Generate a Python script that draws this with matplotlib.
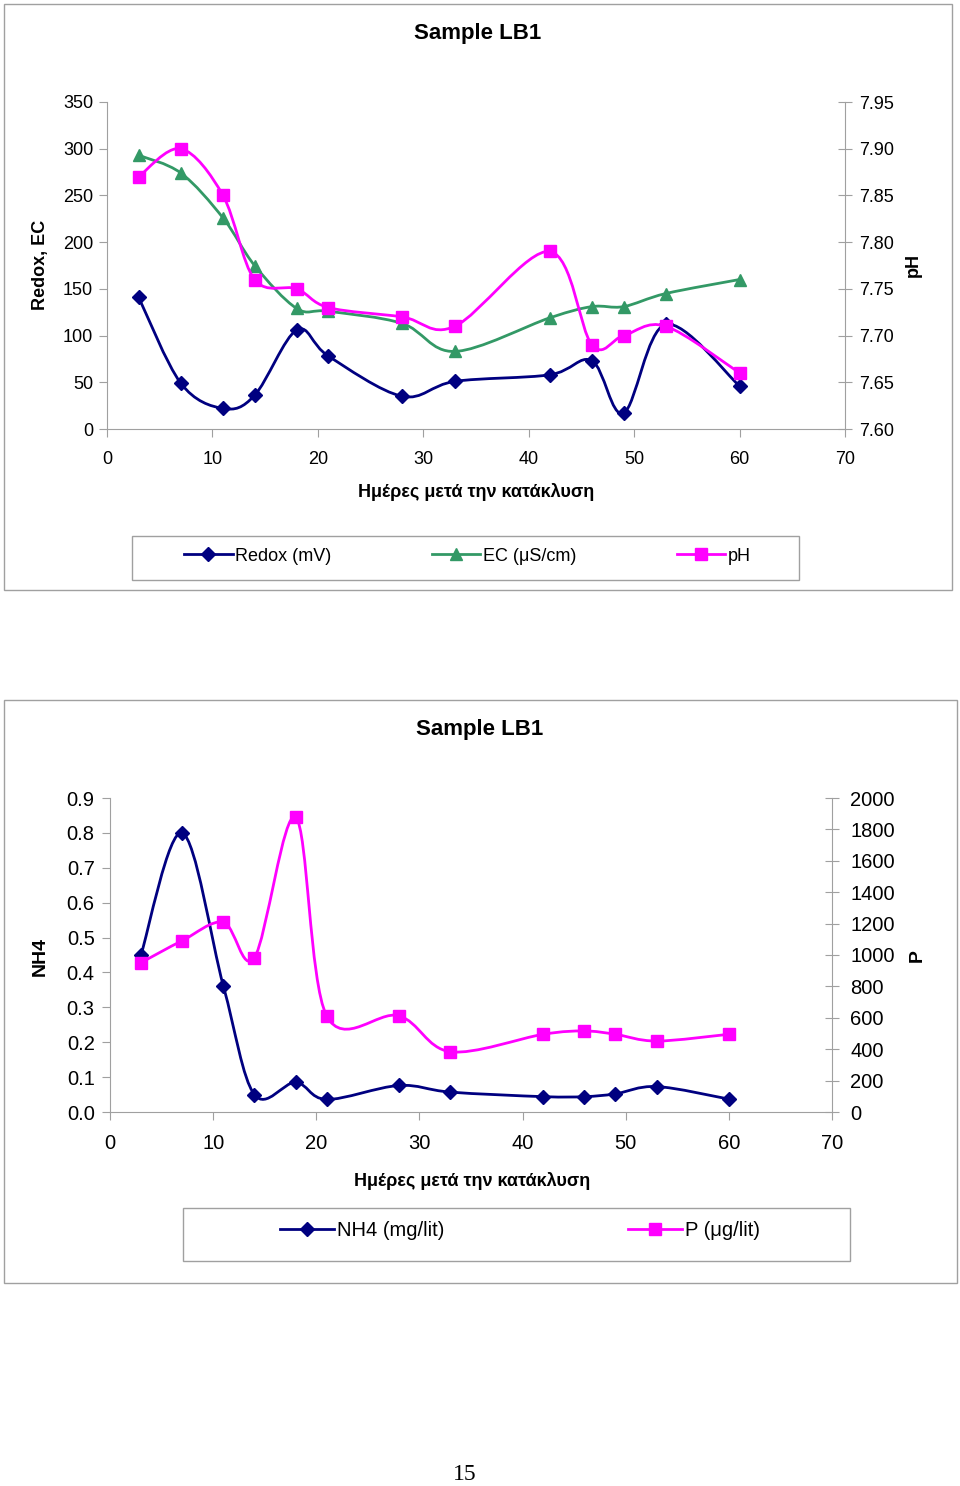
import numpy as np
import matplotlib
matplotlib.use("Agg")
import matplotlib.pyplot as plt
from matplotlib.path import Path
from matplotlib.patches import PathPatch, Rectangle
from matplotlib.lines import Line2D
from matplotlib.ticker import FormatStrFormatter

plt.rcParams['font.family'] = ['Liberation Sans', 'DejaVu Sans']

# Data (days after flooding)
days = [3, 7, 11, 14, 18, 21, 28, 33, 42, 46, 49, 53, 60]
redox = [141, 49, 22, 36, 106, 78, 35, 51, 58, 73, 17, 112, 46]
ec = [293, 274, 226, 175, 129, 126, 113, 83, 119, 131, 131, 145, 160]
ph = [7.87, 7.90, 7.85, 7.76, 7.75, 7.73, 7.72, 7.71, 7.79, 7.69, 7.70, 7.71, 7.66]

nh4 = [0.45, 0.80, 0.36, 0.05, 0.085, 0.036, 0.076, 0.057, 0.044, 0.044, 0.052, 0.073, 0.037]
p_ug = [951, 1091, 1208, 983, 1877, 613, 613, 384, 495, 516, 495, 452, 495]

W, H = 960, 1486
NAVY = '#000080'
GREEN = '#339966'
MAGENTA = '#FF00FF'
GRAY = '#A0A0A0'


def fx(px):
    return px / W


def fy(py):
    return 1 - py / H


def smooth(ax, x, y, color):
    # Excel-like smoothed line: Catmull-Rom as cubic Bezier segments
    pts = np.column_stack([x, y]).astype(float)
    n = len(pts)
    verts = [pts[0]]
    codes = [Path.MOVETO]
    for i in range(n - 1):
        p0 = pts[max(i - 1, 0)]
        p1 = pts[i]
        p2 = pts[i + 1]
        p3 = pts[min(i + 2, n - 1)]
        verts += [p1 + (p2 - p0) / 6, p2 - (p3 - p1) / 6, p2]
        codes += [Path.CURVE4] * 3
    ax.add_patch(PathPatch(Path(verts, codes), facecolor='none',
                           edgecolor=color, lw=2, clip_on=False))


def style_axes(ax, ax2, fs, lpad, rpad):
    for s in ['top', 'right']:
        ax.spines[s].set_visible(False)
    for s in ['top', 'left', 'bottom']:
        ax2.spines[s].set_visible(False)
    ax.spines['left'].set_color(GRAY)
    ax.spines['bottom'].set_color(GRAY)
    ax2.spines['right'].set_color(GRAY)
    ax.tick_params(axis='y', direction='out', length=6, color=GRAY, labelsize=fs, pad=lpad)
    ax.tick_params(axis='x', direction='out', length=6, color=GRAY, labelsize=fs, pad=10)
    ax2.tick_params(axis='y', direction='inout', length=10, color=GRAY, labelsize=fs, pad=rpad)
    ax.set_xlim(0, 70)
    ax.set_xticks(range(0, 71, 10))
    ax.patch.set_visible(False)
    ax2.patch.set_visible(False)


fig = plt.figure(figsize=(9.6, 14.86), dpi=100)

# outer frames
for x0, y0, x1, y1 in [(4, 4, 952, 590), (4, 700, 957, 1283),
                       (132, 536, 799, 580), (183, 1208, 850, 1261)]:
    fig.add_artist(Rectangle((fx(x0), fy(y1)), (x1 - x0) / W, (y1 - y0) / H,
                             transform=fig.transFigure, facecolor='none',
                             edgecolor=GRAY, lw=1))

# ---------------- top chart ----------------
ax = fig.add_axes([fx(107), fy(429), (845 - 107) / W, (429 - 102) / H])
ax2 = ax.twinx()
style_axes(ax, ax2, 13, 4, 5)

ax.set_ylim(0, 350)
ax.set_yticks(range(0, 351, 50))
ax2.set_ylim(7.60, 7.95)
ax2.set_yticks(np.arange(7.60, 7.951, 0.05))
ax2.yaxis.set_major_formatter(FormatStrFormatter('%.2f'))

smooth(ax, days, redox, NAVY)
ax.plot(days, redox, ls='none', marker='D', ms=7, color=NAVY, clip_on=False)
smooth(ax, days, ec, GREEN)
ax.plot(days, ec, ls='none', marker='^', ms=8.5, color=GREEN, clip_on=False)
smooth(ax2, days, ph, MAGENTA)
ax2.plot(days, ph, ls='none', marker='s', ms=8, color=MAGENTA, clip_on=False)

fig.text(fx(478), fy(34), 'Sample LB1', fontsize=16, fontweight='bold', ha='center', va='center')
fig.text(fx(40), fy(265), 'Redox, EC', fontsize=13, fontweight='bold', rotation=90, ha='center', va='center')
fig.text(fx(913), fy(265), 'pH', fontsize=13, fontweight='bold', rotation=90, ha='center', va='center')
fig.text(fx(476), fy(492), 'Ημέρες μετά την κατάκλυση', fontsize=13, fontweight='bold', ha='center', va='center')

h1 = [Line2D([], [], color=NAVY, lw=2, marker='D', ms=7),
      Line2D([], [], color=GREEN, lw=2, marker='^', ms=8.5),
      Line2D([], [], color=MAGENTA, lw=2, marker='s', ms=8)]
fig.legend(h1, ['Redox (mV)', 'EC (μS/cm)', 'pH'], loc='center',
           bbox_to_anchor=(fx(184), fy(576), (751 - 184) / W, 40 / H),
           mode='expand', ncol=3, frameon=False, borderaxespad=0, borderpad=0,
           fontsize=13, handlelength=2.7, handletextpad=0.15, numpoints=1)

# ---------------- bottom chart ----------------
bx = fig.add_axes([fx(110), fy(1112), (832 - 110) / W, (1112 - 798) / H])
bx2 = bx.twinx()
style_axes(bx, bx2, 14.5, 5, 8)

bx.set_ylim(0, 0.9)
bx.set_yticks(np.arange(0, 0.91, 0.1))
bx.yaxis.set_major_formatter(FormatStrFormatter('%.1f'))
bx2.set_ylim(0, 2000)
bx2.set_yticks(range(0, 2001, 200))

smooth(bx, days, nh4, NAVY)
bx.plot(days, nh4, ls='none', marker='D', ms=7, color=NAVY, clip_on=False)
smooth(bx2, days, p_ug, MAGENTA)
bx2.plot(days, p_ug, ls='none', marker='s', ms=8, color=MAGENTA, clip_on=False)

fig.text(fx(480), fy(730), 'Sample LB1', fontsize=16, fontweight='bold', ha='center', va='center')
fig.text(fx(40), fy(956), 'NH4', fontsize=14, fontweight='bold', rotation=90, ha='center', va='center')
fig.text(fx(917), fy(956), 'P', fontsize=14, fontweight='bold', rotation=90, ha='center', va='center')
fig.text(fx(472), fy(1181), 'Ημέρες μετά την κατάκλυση', fontsize=13, fontweight='bold', ha='center', va='center')

h2 = [Line2D([], [], color=NAVY, lw=2, marker='D', ms=7),
      Line2D([], [], color=MAGENTA, lw=2, marker='s', ms=8)]
fig.legend(h2, ['NH4 (mg/lit)', 'P (μg/lit)'], loc='center',
           bbox_to_anchor=(fx(280), fy(1252), (760 - 280) / W, 42 / H),
           mode='expand', ncol=2, frameon=False, borderaxespad=0, borderpad=0,
           fontsize=14.5, handlelength=2.7, handletextpad=0.15, numpoints=1)

fig.text(fx(465), fy(1475), '15', fontsize=17, family=['Liberation Serif', 'DejaVu Serif'],
         ha='center', va='center')

fig.savefig('out.png', dpi=100)
